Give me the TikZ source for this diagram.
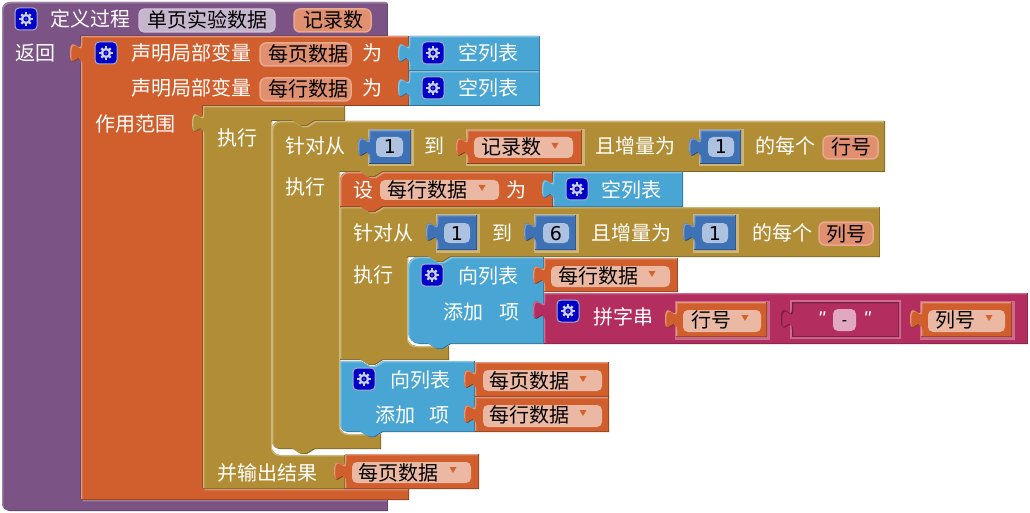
\documentclass[tikz,border=0pt]{standalone}
\usepackage{fontspec}
\setmainfont{Noto Sans CJK SC}
\newfontfamily\qfont{Liberation Sans}
\newfontfamily\dfont{DejaVu Sans}
\definecolor{pur}{HTML}{7C5385}\definecolor{purL}{HTML}{A184A8}\definecolor{purD}{HTML}{5A3C61}
\definecolor{org}{HTML}{D05F2D}\definecolor{orgL}{HTML}{E3967A}\definecolor{orgD}{HTML}{8A3F1E}
\definecolor{yel}{HTML}{B18E35}\definecolor{yelL}{HTML}{CDB478}\definecolor{yelD}{HTML}{7B6325}
\definecolor{blu}{HTML}{49A6D4}\definecolor{bluL}{HTML}{86C4E3}\definecolor{bluD}{HTML}{2F7194}
\definecolor{num}{HTML}{3F71B5}\definecolor{numL}{HTML}{7F9FCE}\definecolor{numD}{HTML}{2A4D7E}
\definecolor{mag}{HTML}{B32D5E}\definecolor{magL}{HTML}{CC6B8F}\definecolor{magD}{HTML}{7D1F42}
\definecolor{CSfill}{HTML}{C5B6CD}\definecolor{CSline}{HTML}{CFC3D6}
\definecolor{NMfill}{HTML}{E08F6F}\definecolor{NMline}{HTML}{E8A98F}
\definecolor{DDfill}{HTML}{EBB9A3}\definecolor{NUfill}{HTML}{ADC1E0}
\definecolor{STfill}{HTML}{E1A9C1}\definecolor{GBfill}{HTML}{0000C8}
\definecolor{GBline}{HTML}{A9ADCC}\definecolor{GRfill}{HTML}{C9CEEC}
\definecolor{ARfill}{HTML}{D4622E}
\tikzset{
  lbl/.style={anchor=base west,inner sep=0pt,font=\fontsize{20}{24}\selectfont},
  wht/.style={lbl,text=white},
  blk/.style={lbl,text=black},
  digit/.style={anchor=base,inner sep=0pt,text=black,font=\dfont\fontsize{19}{24}\selectfont},
  quot/.style={anchor=base,inner sep=0pt,text=white,font=\qfont\itshape\fontsize{20}{24}\selectfont},
  procf/.style={fill=CSfill,draw=CSline,line width=1.2pt,rounded corners=5pt},
  namef/.style={fill=NMfill,draw=NMline,line width=1.5pt,rounded corners=6pt},
  dropf/.style={fill=DDfill,rounded corners=5pt},
  numf/.style={fill=NUfill,rounded corners=5pt},
  strf/.style={fill=STfill,rounded corners=5pt},
  gearbox/.style={fill=GBfill,draw=GBline,line width=1pt,rounded corners=4pt},
}
\newcommand\bevel[4]{%
  \begin{scope}
    \clip #1;
    \fill[#4] #1;
    \begin{scope}[shift={(-1,-1)}]
      \fill[#3] #1;
      \clip #1;
      \begin{scope}[shift={(2.3,2.3)}]
        \fill[#2] #1;
      \end{scope}
    \end{scope}
  \end{scope}}
\newcommand\tabup[2]{-- (#1,#2) .. controls (#1,#2-13.3) and (#1-11,#2+10.7) .. (#1-11,#2-10) .. controls (#1-11,#2-30.7) and (#1,#2-6.7) .. (#1,#2-20)}
\newcommand\nright[2]{-- (#1+21,#2) -- (#1+29,#2+5) -- (#1+35,#2+5) -- (#1+43,#2)}
\newcommand\nleft[2]{-- (#1+43,#2) -- (#1+35,#2+5) -- (#1+29,#2+5) -- (#1+21,#2)}
\newcommand\vb[7]{\bevel{(#1,#2) -- (#3,#2) -- (#3,#4) -- (#1,#4) \tabup{#1}{#2+27} -- cycle}{#5}{#6}{#7}}
\newcommand\sock[5]{\fill[#5] (#1-1,#2-1) rectangle (#3+2.5,#4+2.5);}
\newcommand\fb[5]{\path[#5] (#1,#2) rectangle (#3,#4);}
\newcommand\lab[5]{\node[#4] (#1) at (#2,#3+8) {#5};}
\newcommand\drop[2]{\fill[ARfill] (#1-3.5,#2-3) -- (#1+3.5,#2-3) -- (#1,#2+3) -- cycle;}
\newcommand\gearicon[2]{%
  \path[gearbox] (#1-11,#2-11) rectangle (#1+11,#2+11);
  \fill[GRfill] (#1,#2) circle (5.2);
  \foreach \ang in {0,45,...,315}{\draw[GRfill,line width=2.4pt] (#1,#2) ++(\ang:4.5) -- ++(\ang:2.2);}
  \fill[GBfill] (#1,#2) circle (2.6);
  \fill[GRfill!70!GBfill] (#1,#2) circle (0.9);}
\begin{document}
\begin{tikzpicture}[x=1pt,y=-1pt]
\useasboundingbox (0,0) rectangle (1030,513);
\fill[white] (0,0) rectangle (1030,513);
% procedure
\bevel{(2,10) .. controls (2,5.6) and (5.6,2) .. (10,2) -- (385,2) .. controls (387,2) and (388,3) .. (388,5) -- (388,36) -- (81,36) -- (81,500) -- (388,500) -- (388,511) -- (10,511) .. controls (5.6,511) and (2,507.4) .. (2,503) -- cycle}{pur}{purL}{purD}
% local variables
\bevel{(81,36) -- (409,36) -- (409,106) -- (203,106) -- (203,489) -- (409,489) -- (409,500) -- (81,500) \tabup{81}{63} -- cycle}{org}{orgL}{orgD}
% do-result
\bevel{(203,106) -- (345,106) -- (345,121) \nleft{272}{121} -- (272,121) -- (272,447) .. controls (272,451.4) and (275.6,455) .. (280,455) -- (345,455) -- (345,489) -- (203,489) \tabup{203}{133} -- cycle}{yel}{yelL}{yelD}
\draw[yelL,line width=1.2pt] (271.4,122) -- (271.4,447) .. controls (271.4,452) and (275,455.6) .. (280,455.6) -- (344,455.6);
% outer for
\bevel{(272,129) .. controls (272,124.6) and (275.6,121) .. (280,121) \nright{272}{121} -- (885,121) -- (885,172) \nleft{340}{172} -- (340,172) -- (340,426) .. controls (340,430.4) and (343.6,434) .. (348,434) -- (381,434) -- (381,449) \nleft{272}{449} -- (280,449) .. controls (275.6,449) and (272,445.4) .. (272,441) -- cycle}{yel}{yelL}{yelD}
\draw[yelL,line width=1.2pt] (339.4,172) -- (339.4,426) .. controls (339.4,431) and (343,434.6) .. (348,434.6) -- (380,434.6);
% list block 2
\bevel{(340,361) \nright{340}{361} -- (475,361) -- (475,432) \nleft{340}{432} -- (348,432) .. controls (343.6,432) and (340,428.4) .. (340,424) -- cycle}{blu}{bluL}{bluD}
% inner for
\bevel{(340,207) \nright{340}{207} -- (880,207) -- (880,257) \nleft{408}{257} -- (408,257) -- (408,338) .. controls (408,342.4) and (411.6,346) .. (416,346) -- (449,346) -- (449,360) \nleft{340}{360} -- (340,360) -- cycle}{yel}{yelL}{yelD}
\draw[yelL,line width=1.2pt] (407.4,258) -- (407.4,338) .. controls (407.4,343) and (411,346.6) .. (416,346.6) -- (448,346.6);
% set block
\bevel{(340,180) .. controls (340,175.6) and (343.6,172) .. (348,172) \nright{340}{172} -- (553,172) -- (553,207) \nleft{340}{207} -- (340,207) -- cycle}{org}{orgL}{orgD}
% list block 1
\bevel{(408,267) .. controls (408,261.5) and (412.5,257) .. (418,257) \nright{408}{257} -- (544,257) -- (544,344) \nleft{408}{344} -- (420,344) .. controls (413.4,344) and (408,338.6) .. (408,332) -- cycle}{blu}{bluL}{bluD}
% empty lists
\vb{409}{36}{540}{71}{blu}{bluL}{bluD}
\vb{409}{71}{540}{106}{blu}{bluL}{bluD}
\vb{553}{172}{683}{207}{blu}{bluL}{bluD}
% outer for row
\sock{369}{130}{411}{164}{yelL}
\vb{369}{130}{411}{164}{num}{numL}{numD}
\sock{467}{130}{582}{164}{yelL}
\vb{467}{130}{582}{164}{org}{orgL}{orgD}
\sock{700}{130}{741}{164}{yelL}
\vb{700}{130}{741}{164}{num}{numL}{numD}
% inner for row
\sock{437}{215}{477}{250}{yelL}
\vb{437}{215}{477}{250}{num}{numL}{numD}
\sock{535}{215}{576}{250}{yelL}
\vb{535}{215}{576}{250}{num}{numL}{numD}
\sock{694}{215}{736}{250}{yelL}
\vb{694}{215}{736}{250}{num}{numL}{numD}
% values
\vb{544}{258}{678}{292}{org}{orgL}{orgD}
\vb{544}{293}{1028}{344}{mag}{magL}{magD}
\vb{475}{362}{609}{397}{org}{orgL}{orgD}
\vb{475}{397}{609}{432}{org}{orgL}{orgD}
\vb{345}{454}{479}{489}{org}{orgL}{orgD}
\sock{676}{302}{767}{337}{magL}
\vb{676}{302}{767}{337}{org}{orgL}{orgD}
\fill[magL] (790,300) rectangle (901,339);
\vb{792}{302}{899}{337}{mag}{magD}{magD}
\sock{921}{302}{1012}{337}{magL}
\vb{921}{302}{1012}{337}{org}{orgL}{orgD}
% fields
\fb{139}{9}{275}{32}{procf}
\fb{294}{9}{371}{32}{namef}
\fb{260}{43}{351}{66}{namef}
\fb{260}{78}{351}{101}{namef}
\fb{474}{137}{573}{158}{dropf}
\fb{380}{180}{499}{200}{dropf}
\fb{551}{266}{670}{287}{dropf}
\fb{683}{310}{761}{332}{dropf}
\fb{928}{310}{1005}{332}{dropf}
\fb{483}{370}{602}{391}{dropf}
\fb{483}{405}{602}{427}{dropf}
\fb{352}{462}{471}{483}{dropf}
\fb{823}{136}{878}{159}{namef}
\fb{819}{222}{873}{245}{namef}
\fb{376}{137}{403}{157}{numf}
\fb{708}{137}{734}{157}{numf}
\fb{444}{223}{470}{243}{numf}
\fb{543}{223}{569}{243}{numf}
\fb{702}{223}{728}{243}{numf}
\fb{833}{309}{856}{331}{strf}
% icons
\gearicon{26}{19}
\gearicon{106}{53}
\gearicon{433}{53}
\gearicon{433}{88}
\gearicon{577}{189}
\gearicon{432}{275}
\gearicon{364}{379}
\gearicon{568}{311}
% dropdown marks
\drop{555}{146}
\drop{482}{188}
\drop{652}{274}
\drop{745}{318}
\drop{989}{318}
\drop{583}{379}
\drop{583}{413}
\drop{453}{470}
% labels
\lab{defn}{50}{19}{wht}{定义过程}
\lab{pname}{147}{20}{blk}{单页实验数据}
\lab{parg}{303}{20}{blk}{记录数}
\lab{ret}{15}{53}{wht}{返回}
\lab{decla}{131}{53}{wht}{声明局部变量}
\lab{vara}{268}{54}{blk}{每页数据}
\lab{asa}{362}{53}{wht}{为}
\lab{emptya}{458}{53}{wht}{空列表}
\lab{declb}{131}{88}{wht}{声明局部变量}
\lab{varb}{268}{89}{blk}{每行数据}
\lab{asb}{362}{88}{wht}{为}
\lab{emptyb}{458}{88}{wht}{空列表}
\lab{scope}{95}{124}{wht}{作用范围}
\lab{doa}{217}{138}{wht}{执行}
\lab{fora}{285}{146}{wht}{针对从}
\node[digit] (na) at (390,154) {1};
\lab{toa}{424}{146}{wht}{到}
\lab{reca}{481}{147}{blk}{记录数}
\lab{stepa}{595}{146}{wht}{且增量为}
\node[digit] (nb) at (721,154) {1};
\lab{eacha}{755}{146}{wht}{的每个}
\lab{rowa}{831}{147}{blk}{行号}
\lab{dob}{285}{187}{wht}{执行}
\lab{setk}{353}{189}{wht}{设}
\lab{setv}{387}{189}{blk}{每行数据}
\lab{asc}{506}{189}{wht}{为}
\lab{emptyc}{601}{189}{wht}{空列表}
\lab{forb}{353}{232}{wht}{针对从}
\node[digit] (nc) at (457,240) {1};
\lab{tob}{492}{232}{wht}{到}
\node[digit] (nd) at (556,240) {6};
\lab{stepb}{591}{232}{wht}{且增量为}
\node[digit] (ne) at (715,240) {1};
\lab{eachb}{752}{232}{wht}{的每个}
\lab{cola}{826}{233}{blk}{列号}
\lab{doc}{353}{274}{wht}{执行}
\lab{lista}{458}{275}{wht}{向列表}
\lab{listav}{558}{275}{blk}{每行数据}
\lab{adda}{443}{311}{wht}{添加}
\lab{itema}{499}{311}{wht}{项}
\lab{join}{593}{316}{wht}{拼字串}
\lab{joinr}{691}{319}{blk}{行号}
\node[quot] (qa) at (821.5,325) {"};
\node[anchor=base,inner sep=0pt,text=black,font=\qfont\fontsize{16}{20}\selectfont] (dash) at (844.5,325) {-};
\node[quot] (qb) at (867,325) {"};
\lab{joinc}{935}{319}{blk}{列号}
\lab{listb}{390}{379}{wht}{向列表}
\lab{listbv}{489}{380}{blk}{每页数据}
\lab{addb}{375}{414}{wht}{添加}
\lab{itemb}{429}{414}{wht}{项}
\lab{addbv}{489}{414}{blk}{每行数据}
\lab{result}{217}{472}{wht}{并输出结果}
\lab{resv}{358}{472}{blk}{每页数据}
\end{tikzpicture}
\end{document}
